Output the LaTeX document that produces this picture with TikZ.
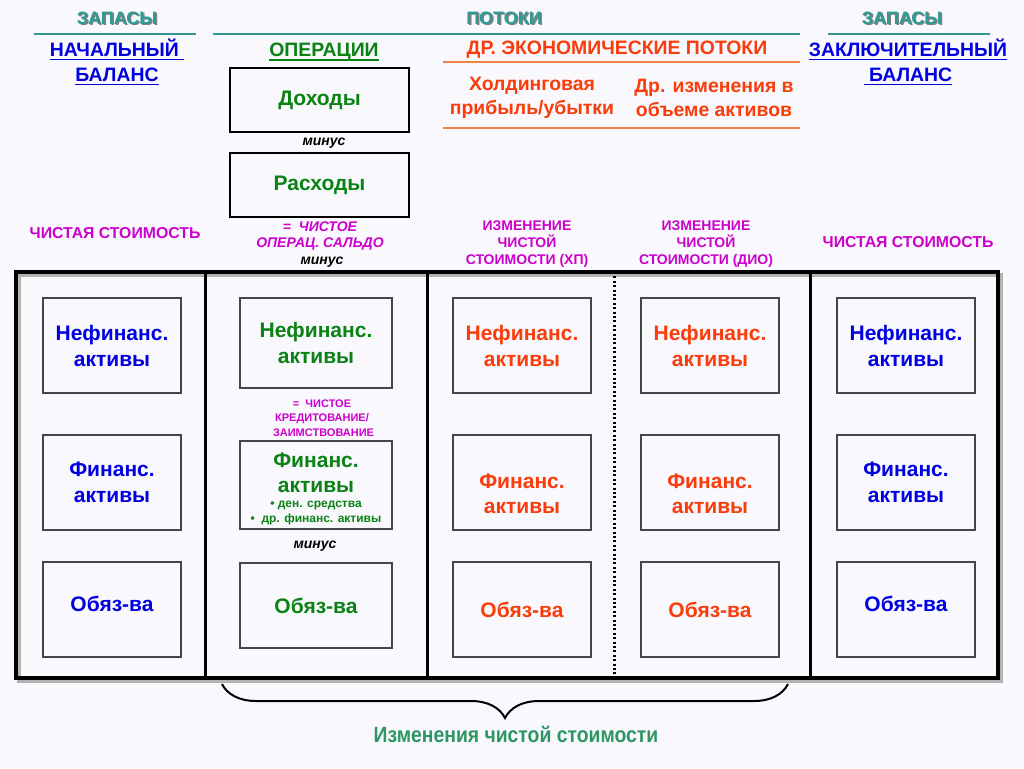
\documentclass[tikz,border=0pt]{standalone}
\usepackage{fontspec}
\setmainfont{Liberation Sans}
\newfontfamily\narrowfont[FakeStretch=0.88]{Liberation Sans}
\usetikzlibrary{decorations.pathreplacing}
\definecolor{bgpage}{RGB}{248,248,253}
\definecolor{tealtext}{RGB}{45,155,150}
\definecolor{tealline}{RGB}{50,150,150}
\definecolor{stockblue}{RGB}{0,0,225}
\definecolor{opgreen}{RGB}{10,130,20}
\definecolor{flowred}{RGB}{250,60,10}
\definecolor{flowline}{RGB}{240,130,70}
\definecolor{netmag}{RGB}{205,0,205}
\definecolor{boxgray}{RGB}{70,70,70}
\definecolor{sumgreen}{RGB}{45,150,100}
\newcommand{\undertxt}[1]{\leavevmode\setbox0\hbox{#1}\rlap{\vrule width\wd0 height -1.3pt depth 2.2pt}\box0}

\begin{document}
\begin{tikzpicture}[
    x=0.5pt, y=-0.5pt,
    head/.style={font=\bfseries\fontsize{9}{11}\selectfont, text=tealtext},
    headshadow/.style={font=\bfseries\fontsize{9}{11}\selectfont, text=black!50},
    title/.style={font=\bfseries\fontsize{9.7}{12.5}\selectfont, align=center},
    flowtext/.style={font=\bfseries\fontsize{9.7}{12}\selectfont, align=center, text=flowred},
    sepline/.style={line width=1pt},
    flowbox/.style={
      draw=black,
      line width=1pt,
      minimum width=89.5pt,
      minimum height=32pt,
      font=\bfseries\fontsize{10.5}{13}\selectfont,
      text=opgreen
    },
    inbox/.style={
      draw=boxgray,
      line width=0.7pt,
      minimum width=69pt,
      minimum height=47.5pt,
      inner sep=0pt,
      align=center,
      font=\bfseries\fontsize{10.5}{13}\selectfont
    },
    boxtext/.style={font=\bfseries\fontsize{10.5}{12.5}\selectfont, align=center},
    smalltext/.style={font=\bfseries\fontsize{6}{7.5}\selectfont, align=center},
    note/.style={font=\bfseries\fontsize{7}{8.5}\selectfont, text=netmag, align=center},
    netnote/.style={font=\bfseries\fontsize{7.9}{9}\selectfont, text=netmag},
    tinynote/.style={font=\bfseries\fontsize{5.5}{7.25}\selectfont, text=netmag, align=center},
    minus/.style={font=\bfseries\itshape\fontsize{7}{8.5}\selectfont},
    frame/.style={line width=2pt},
    divider/.style={line width=1.5pt},
    dotline/.style={line width=1.5pt, dash pattern=on 1pt off 1.2pt},
    bracestyle/.style={line width=1pt, decorate, decoration={brace, amplitude=17pt}},
    sumtext/.style={font=\narrowfont\bfseries\fontsize{11}{13}\selectfont, text=sumgreen}
  ]

  \path[use as bounding box, fill=bgpage] (0,0) rectangle (1024,768);

  % headings
  \node[headshadow] at (118.5,19.5) {ЗАПАСЫ};
  \node[head] (stk1) at (117,18) {ЗАПАСЫ};
  \node[headshadow] at (505.5,19.5) {ПОТОКИ};
  \node[head] (flw) at (504,18) {ПОТОКИ};
  \node[headshadow] at (903.5,19.5) {ЗАПАСЫ};
  \node[head] (stk2) at (902,18) {ЗАПАСЫ};
  \draw[sepline, tealline] (34,34) -- (196,34);
  \draw[sepline, tealline] (213,34) -- (800,34);
  \draw[sepline, tealline] (828,34) -- (990,34);

  \node[title, text=stockblue] (open) at (117,62) {\undertxt{НАЧАЛЬНЫЙ\ }\\\undertxt{БАЛАНС}};
  \node[title, text=opgreen] (ops) at (324,52) {\undertxt{ОПЕРАЦИИ}};
  \node[flowtext] (oef) at (617,50) {ДР. ЭКОНОМИЧЕСКИЕ ПОТОКИ};
  \node[title, text=stockblue] (close) at (908,62) {\undertxt{ЗАКЛЮЧИТЕЛЬНЫЙ}\\\undertxt{\ БАЛАНС}};
  \draw[sepline, flowline] (443,62) -- (800,62);
  \node[flowtext] (hold) at (532,98) {Холдинговая\\прибыль/убытки};
  \node[flowtext] (vol) at (714,98) {Др. изменения в\\объеме активов};
  \draw[sepline, flowline] (443,128) -- (800,128);

  % operations
  \node[flowbox] (inc) at (319.5,100) {Доходы};
  \node[minus] (m1) at (324,143) {минус};
  \node[flowbox] (exp) at (319.5,185) {Расходы};
  \node[note, font=\bfseries\itshape\fontsize{7}{8}\selectfont] (nob) at (320,236) {=\ \ ЧИСТОЕ\\ОПЕРАЦ. САЛЬДО};
  \node[minus] (m2) at (322,262) {минус};

  \node[netnote] (nw1) at (115,233) {ЧИСТАЯ СТОИМОСТЬ};
  \node[note] (chh) at (527,244) {ИЗМЕНЕНИЕ\\ЧИСТОЙ\\СТОИМОСТИ (ХП)};
  \node[note] (chv) at (706,244) {ИЗМЕНЕНИЕ\\ЧИСТОЙ\\СТОИМОСТИ (ДИО)};
  \node[netnote] (nw2) at (908,242) {ЧИСТАЯ СТОИМОСТЬ};

  % table frame
  \draw[frame, black!30] (19,275) rectangle (1001,681);
  \draw[frame] (16,272) rectangle (998,678);
  \draw[divider] (205,272) -- (205,678);
  \draw[divider] (427,272) -- (427,678);
  \draw[dotline] (614,272) -- (614,678);
  \draw[divider] (810,272) -- (810,678);

  % opening balance
  \node[inbox, text=stockblue] (nf1) at (112,345.5) {Нефинанс.\\активы};
  \node[inbox, text=stockblue] (fa1) at (112,482.5) {Финанс.\\активы};
  \node[inbox, text=stockblue] (li1) at (112,609.5) {\raisebox{5.5pt}{Обяз-ва}};

  % transactions
  \node[inbox, text=opgreen, minimum width=76pt, minimum height=45pt] (nf2) at (316,343) {Нефинанс.\\активы};
  \node[tinynote] (nlb) at (322,418) {=\ \ ЧИСТОЕ\\КРЕДИТОВАНИЕ/\\\ ЗАИМСТВОВАНИЕ};
  \node[inbox, minimum width=76pt, minimum height=44pt] (fa2) at (316,485) {};
  \node[boxtext, text=opgreen] (fa2t) at (316,472.5) {Финанс.\\активы};
  \node[smalltext, text=opgreen] (fa2s) at (316,512.5) {• ден. средства\\•\ \ др. финанс. активы};
  \node[minus] (m3) at (315,546) {минус};
  \node[inbox, text=opgreen, minimum width=76pt, minimum height=42.5pt] (li2) at (316,605.5) {Обяз-ва};

  % holding gains/losses
  \node[inbox, text=flowred] (nf3) at (522,345.5) {Нефинанс.\\активы};
  \node[inbox] (fa3) at (522,482.5) {};
  \node[boxtext, text=flowred] (fa3t) at (522,494) {Финанс.\\активы};
  \node[inbox, text=flowred] (li3) at (522,609.5) {Обяз-ва};

  % other changes in volume
  \node[inbox, text=flowred] (nf4) at (710,345.5) {Нефинанс.\\активы};
  \node[inbox] (fa4) at (710,482.5) {};
  \node[boxtext, text=flowred] (fa4t) at (710,494) {Финанс.\\активы};
  \node[inbox, text=flowred] (li4) at (710,609.5) {Обяз-ва};

  % closing balance
  \node[inbox, text=stockblue] (nf5) at (906,345.5) {Нефинанс.\\активы};
  \node[inbox, text=stockblue] (fa5) at (906,482.5) {Финанс.\\активы};
  \node[inbox, text=stockblue] (li5) at (906,609.5) {\raisebox{5.5pt}{Обяз-ва}};

  % brace
  \coordinate (brR) at (788,684);
  \coordinate (brL) at (222,684);
  \draw[bracestyle] (brR) -- (brL);
  \node[sumtext] (sum) at (516,734) {Изменения чистой стоимости};
\end{tikzpicture}
\end{document}
